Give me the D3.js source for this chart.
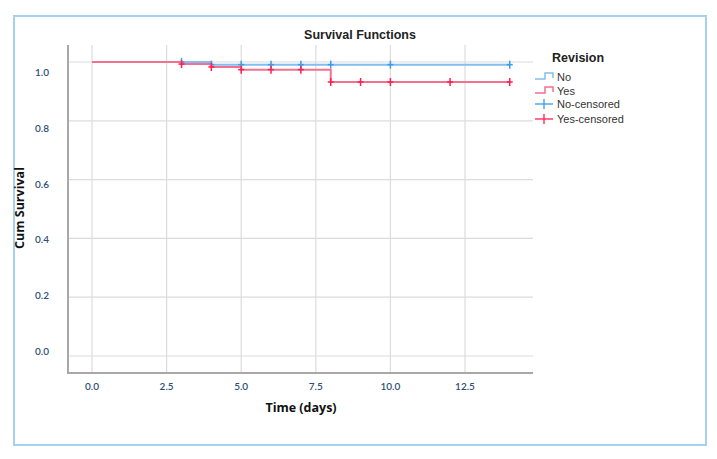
<!DOCTYPE html>
<html>
<head>
<meta charset="utf-8">
<script src="https://cdn.jsdelivr.net/npm/d3@7"></script>
<style>
  body { margin: 0; background: #fff; }
  svg { display: block; }
</style>
</head>
<body>
<svg></svg>
<script>
var width = 717;
var height = 459;

// step data: time of each step and survival after it
var noTimes = [0, 4, 14];
var noSurv = [1.0, 0.991, 0.991];
var yesTimes = [0, 3, 4, 5, 8, 14];
var yesSurv = [1.0, 0.993, 0.983, 0.974, 0.932, 0.932];

// censored times
var noCensored = [3, 4, 5, 6, 7, 8, 10, 14];
var yesCensored = [3, 4, 5, 6, 7, 8, 9, 10, 12, 14];

var xTicks = [0, 2.5, 5, 7.5, 10, 12.5];
var yTicks = [0, 0.2, 0.4, 0.6, 0.8, 1.0];
var legendNames = ["No", "Yes", "No-censored", "Yes-censored"];

var blueLine = "#84bdf0", redLine = "#f4708f";
var blueMark = "#3d9be9", redMark = "#ff1f50";

var svg = d3.select("svg").attr("width", width).attr("height", height);

// outer frame
svg.append("rect").attr("x", 14).attr("y", 16).attr("width", 692).attr("height", 429)
  .attr("fill", "none").attr("stroke", "#a6d0ef").attr("stroke-width", 2);

var x = d3.scaleLinear().domain([0, 12.5]).range([92, 465]);
var y = d3.scaleLinear().domain([0, 1]).range([356, 62]);
// SPSS puts y labels slightly off the grid lines
var yLab = d3.scaleLinear().domain([0, 1]).range([351, 72]);

var pLeft = 68, pRight = 533, pTop = 45, pBottom = 373;

// grid
svg.append("g").selectAll("line").data(xTicks).enter().append("line")
  .attr("x1", function(d) { return x(d); }).attr("x2", function(d) { return x(d); })
  .attr("y1", pTop).attr("y2", pBottom)
  .attr("stroke", "#dcdcdc").attr("stroke-width", 1.2);
svg.append("g").selectAll("line").data(yTicks).enter().append("line")
  .attr("x1", pLeft).attr("x2", pRight)
  .attr("y1", function(d) { return y(d); }).attr("y2", function(d) { return y(d); })
  .attr("stroke", "#dcdcdc").attr("stroke-width", 1.2);

// axis lines
svg.append("line").attr("x1", pLeft).attr("x2", pLeft).attr("y1", pTop).attr("y2", pBottom + 1)
  .attr("stroke", "#a8a8a8").attr("stroke-width", 2);
svg.append("line").attr("x1", pLeft).attr("x2", pRight).attr("y1", pBottom).attr("y2", pBottom)
  .attr("stroke", "#a8a8a8").attr("stroke-width", 2);

// tick labels
var tickFont = "Lato, 'Noto Sans', sans-serif";
svg.append("g").selectAll("text").data(xTicks).enter().append("text")
  .attr("x", function(d) { return x(d); }).attr("y", 390)
  .attr("text-anchor", "middle").attr("font-family", tickFont).attr("font-size", 10)
  .attr("font-weight", 600).attr("fill", "#2d4f78")
  .text(function(d) { return d3.format(".1f")(d); });
svg.append("g").selectAll("text").data(yTicks).enter().append("text")
  .attr("x", 49).attr("y", function(d) { return yLab(d) + 4; })
  .attr("text-anchor", "end").attr("font-family", tickFont).attr("font-size", 10)
  .attr("font-weight", 600).attr("fill", "#2d4f78")
  .text(function(d) { return d3.format(".1f")(d); });

// titles
var titleFont = "'Liberation Sans', Arial, sans-serif";
svg.append("text").attr("x", 360).attr("y", 39).attr("text-anchor", "middle")
  .attr("font-family", titleFont).attr("font-size", 12.5).attr("font-weight", "bold")
  .attr("fill", "#222").text("Survival Functions");
svg.append("text").attr("x", 301).attr("y", 412).attr("text-anchor", "middle")
  .attr("font-family", "'Open Sans', sans-serif").attr("font-size", 12.5).attr("font-weight", "bold")
  .attr("fill", "#111").text("Time (days)");
svg.append("text").attr("transform", "translate(24,208) rotate(-90)").attr("text-anchor", "middle")
  .attr("font-family", "'Open Sans', sans-serif").attr("font-size", 12.5).attr("font-weight", "bold")
  .attr("fill", "#111").text("Cum Survival");

// step lines
function stepData(times, surv) {
  return times.map(function(t, i) { return [t, surv[i]]; });
}
var line = d3.line()
  .x(function(d) { return x(d[0]); })
  .y(function(d) { return y(d[1]); })
  .curve(d3.curveStepAfter);

function survAt(times, surv, t) {
  var s = surv[0];
  times.forEach(function(tt, i) { if (tt <= t) s = surv[i]; });
  return s;
}

function drawGroup(times, surv, cens, lc, mc) {
  svg.append("path").datum(stepData(times, surv))
    .attr("d", line).attr("fill", "none").attr("stroke", lc).attr("stroke-width", 2);
  var g = svg.append("g").selectAll("g").data(cens).enter().append("g")
    .attr("transform", function(d) {
      return "translate(" + x(d) + "," + y(survAt(times, surv, d)) + ")";
    });
  g.append("line").attr("y1", -4).attr("y2", 4).attr("stroke", mc).attr("stroke-width", 1.5);
  g.append("line").attr("x1", -3).attr("x2", 3).attr("stroke", mc).attr("stroke-width", 1.5);
}
drawGroup(noTimes, noSurv, noCensored, blueLine, blueMark);
drawGroup(yesTimes, yesSurv, yesCensored, redLine, redMark);

// legend
var lg = svg.append("g");
lg.append("text").attr("x", 552).attr("y", 62).attr("font-family", titleFont)
  .attr("font-size", 12.5).attr("font-weight", "bold").attr("fill", "#222").text("Revision");
var legY = [77, 91, 104, 119];
var legColor = [blueLine, redLine, blueMark, redMark];
legendNames.forEach(function(name, i) {
  var yy = legY[i];
  if (i < 2) {
    lg.append("path").attr("d", "M535," + (yy + 2) + "H545V" + (yy - 4) + "H553V" + (yy + 1))
      .attr("fill", "none").attr("stroke", legColor[i]).attr("stroke-width", 1.5);
  } else {
    lg.append("line").attr("x1", 535).attr("x2", 553).attr("y1", yy).attr("y2", yy)
      .attr("stroke", legColor[i]).attr("stroke-width", 1.3);
    lg.append("line").attr("x1", 544).attr("x2", 544).attr("y1", yy - 5).attr("y2", yy + 5)
      .attr("stroke", legColor[i]).attr("stroke-width", 1.3);
  }
  lg.append("text").attr("x", 557).attr("y", yy + 4).attr("font-family", "'Liberation Sans', Arial, sans-serif")
    .attr("font-size", 11).attr("fill", "#333").text(name);
});
</script>
</body>
</html>
